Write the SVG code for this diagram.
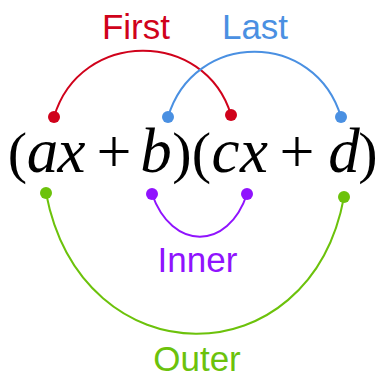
<svg xmlns="http://www.w3.org/2000/svg" width="384" height="388" viewBox="0 0 384 388">
<style>
.lbl{font-family:"Liberation Sans",Arial,sans-serif;font-size:35px;text-anchor:middle}
.m{font-family:"Liberation Serif","Times New Roman",serif;text-anchor:middle;fill:#000}
.v{font-style:italic;font-size:63px}
.p{font-size:58px}
.pl{font-size:62px}
.c{fill:none;stroke-width:2}
</style>
<rect width="384" height="388" fill="#fff"/>
<g id="connectors">
<path class="c" stroke="#d0021b" d="M54,117 C80,29 205,29 231,115"/>
<path class="c" stroke="#4a90e2" d="M168,117 C194,30 315,30 341,117"/>
<path class="c" stroke="#9013fe" d="M152,194 C172,251 228,251 247,194"/>
<path class="c" stroke="#6cc20b" d="M46,193 C82,380 310,380 344,197"/>
</g>
<g id="expression">
<text class="m p" x="17.5" y="172">(</text>
<text class="m v" x="42.5" y="172">a</text>
<text class="m v" x="71.5" y="172">x</text>
<text class="m pl" x="114" y="172">+</text>
<text class="m v" x="156" y="172">b</text>
<text class="m p" x="182" y="172">)</text>
<text class="m p" x="201.5" y="172">(</text>
<text class="m v" x="225.5" y="172">c</text>
<text class="m v" x="254" y="172">x</text>
<text class="m pl" x="297" y="172">+</text>
<text class="m v" x="344" y="172">d</text>
<text class="m p" x="368" y="172">)</text>
</g>
<g id="first">
<circle cx="54" cy="117" r="6" fill="#d0021b"/>
<circle cx="231" cy="115" r="6" fill="#d0021b"/>
<text class="lbl" x="136" y="39" fill="#d0021b">First</text>
</g>
<g id="last">
<circle cx="168" cy="117" r="6" fill="#4a90e2"/>
<circle cx="341" cy="117" r="6" fill="#4a90e2"/>
<text class="lbl" x="255" y="39" fill="#4a90e2">Last</text>
</g>
<g id="inner">
<circle cx="152" cy="194" r="6" fill="#9013fe"/>
<circle cx="247" cy="194" r="6" fill="#9013fe"/>
<text class="lbl" x="197.5" y="272" fill="#9013fe">Inner</text>
</g>
<g id="outer">
<circle cx="46" cy="193" r="6" fill="#6cc20b"/>
<circle cx="344" cy="197" r="6" fill="#6cc20b"/>
<text class="lbl" x="197" y="371" fill="#6cc20b">Outer</text>
</g>
</svg>
